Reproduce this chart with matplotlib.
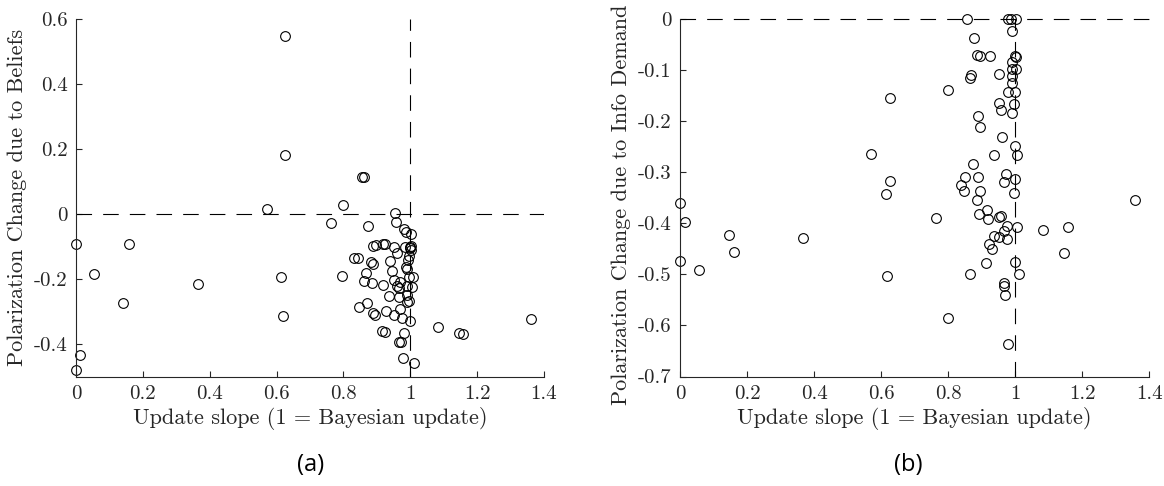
import matplotlib
matplotlib.use('Agg')
import matplotlib.pyplot as plt
import numpy as np

plt.rcParams['font.family'] = 'cmr10'
plt.rcParams['axes.unicode_minus'] = False
plt.rcParams['axes.formatter.use_mathtext'] = True

# (a) update slope vs polarization change due to beliefs
slope_a = [0.626, 0.626, 0.857, 0.863, 0.800, 0.571, 0.764, 0.875, 0.955, 0.958,
           0.0, 0.16, 0.055, 0.142, 0.366, 0.614, 0.619, 0.013, 0.0, 0.797,
           0.833, 0.845, 0.890, 0.898, 0.918, 0.925, 0.883, 0.890, 0.868, 0.862,
           0.887, 0.918, 0.938, 0.950, 0.960, 0.950, 0.960, 0.935, 0.870, 0.847,
           0.890, 0.895, 0.927, 0.950, 0.915, 0.923, 0.965, 0.980, 0.987, 1.002,
           1.000, 0.998, 1.001, 1.003, 0.985, 0.988, 0.990, 0.995, 1.008, 0.970,
           0.966, 0.990, 1.005, 0.990, 0.965, 0.995, 0.990, 0.968, 0.975, 1.000,
           0.980, 0.972, 0.978, 1.010, 1.083, 1.145, 1.158, 1.361, 0.996, 0.994,
           0.945]
beliefs = [0.549, 0.181, 0.115, 0.114, 0.027, 0.014, -0.027, -0.037, 0.002, -0.024,
           -0.092, -0.092, -0.184, -0.273, -0.216, -0.193, -0.314, -0.434, -0.480, -0.192,
           -0.136, -0.134, -0.098, -0.096, -0.092, -0.092, -0.149, -0.155, -0.180, -0.206,
           -0.213, -0.219, -0.145, -0.100, -0.121, -0.203, -0.220, -0.251, -0.275, -0.285,
           -0.304, -0.311, -0.298, -0.311, -0.360, -0.364, -0.393, -0.047, -0.055, -0.063,
           -0.100, -0.106, -0.110, -0.097, -0.103, -0.162, -0.170, -0.193, -0.193, -0.210,
           -0.227, -0.220, -0.226, -0.249, -0.254, -0.268, -0.270, -0.293, -0.321, -0.329,
           -0.367, -0.393, -0.443, -0.457, -0.349, -0.367, -0.369, -0.322, -0.130, -0.140,
           -0.175]

# (b) update slope vs polarization change due to info demand
slope_b = [0.858, 0.978, 0.988, 1.003, 0.991, 0.877, 0.886, 0.894, 0.925, 1.000,
           1.003, 0.991, 0.991, 1.002, 0.952, 0.868, 0.864, 0.991, 0.991, 0.800,
           0.978, 1.000, 0.627, 0.952, 0.996, 0.958, 0.991, 0.888, 0.896, 0.962,
           1.000, 1.005, 0.936, 0.873, 0.852, 0.890, 0.974, 0.999, 0.967, 0.627,
           0.838, 0.847, 0.614, 0.997, 0.895, 0.887, 1.358, 0.917, 0.891, 0.765,
           0.918, 0.951, 0.958, 1.005, 0.977, 1.082, 1.158, 0.967, 0.936, 0.952,
           0.976, 0.922, 0.931, 1.145, 0.999, 0.914, 0.864, 1.012, 0.967, 0.967,
           0.971, 0.799, 0.979, 0.619, 0.0, 0.016, 0.145, 0.368, 0.571, 0.0,
           0.057, 0.162]
info_demand = [0.0, 0.0, 0.0, 0.0, -0.0235, -0.0365, -0.071, -0.072, -0.072, -0.072,
               -0.074, -0.085, -0.098, -0.098, -0.108, -0.109, -0.116, -0.112, -0.125, -0.139,
               -0.142, -0.142, -0.154, -0.164, -0.166, -0.178, -0.185, -0.190, -0.211, -0.232,
               -0.249, -0.266, -0.266, -0.283, -0.309, -0.309, -0.303, -0.314, -0.319, -0.318,
               -0.326, -0.337, -0.343, -0.341, -0.336, -0.354, -0.355, -0.374, -0.382, -0.390,
               -0.392, -0.387, -0.385, -0.408, -0.406, -0.414, -0.408, -0.415, -0.424, -0.426,
               -0.431, -0.441, -0.451, -0.458, -0.476, -0.478, -0.499, -0.499, -0.517, -0.522,
               -0.541, -0.585, -0.636, -0.504, -0.361, -0.398, -0.423, -0.429, -0.264, -0.474,
               -0.491, -0.457]

xticks = [0, 0.2, 0.4, 0.6, 0.8, 1, 1.2, 1.4]
xticklabels = ['0', '0.2', '0.4', '0.6', '0.8', '1', '1.2', '1.4']
yticks_a = [-0.4, -0.2, 0, 0.2, 0.4, 0.6]
yticklabels_a = ['-0.4', '-0.2', '0', '0.2', '0.4', '0.6']
yticks_b = [0, -0.1, -0.2, -0.3, -0.4, -0.5, -0.6, -0.7]
yticklabels_b = ['0', '-0.1', '-0.2', '-0.3', '-0.4', '-0.5', '-0.6', '-0.7']

fig = plt.figure(figsize=(11.64, 4.86), dpi=100)
ax1 = fig.add_axes([0.0653, 0.2253, 0.402, 0.7356])
ax2 = fig.add_axes([0.5842, 0.2253, 0.403, 0.7356])


def style(ax, ylim, yticks, yticklabels, ylabel, label_y=0.5):
    ax.set_xlim(0, 1.4)
    ax.set_ylim(*ylim)
    ax.set_xticks(xticks)
    ax.set_xticklabels(xticklabels)
    ax.set_yticks(yticks)
    ax.set_yticklabels(yticklabels)
    for s in ['top', 'right']:
        ax.spines[s].set_visible(False)
    for s in ['left', 'bottom']:
        ax.spines[s].set_linewidth(0.8)
        ax.spines[s].set_color('#262626')
    ax.tick_params(direction='in', length=4, width=0.8, labelsize=15,
                   colors='#262626', pad=6)
    ax.set_xlabel('Update slope (1 = Bayesian update)', fontsize=16, color='#262626',
                  labelpad=3)
    ax.set_ylabel(ylabel, fontsize=16, color='#262626', labelpad=5, y=label_y)


# panel (a)
ax1.plot([0, 1.4], [0, 0], color='black', lw=0.8, dashes=(14, 10))
ax1.plot([1, 1], [-0.5, 0.6], color='black', lw=0.8, dashes=(14, 10))
ax1.plot(slope_a, beliefs, 'o', mfc='none', mec='black', ms=7, mew=0.8, clip_on=False)
style(ax1, (-0.5, 0.6), yticks_a, yticklabels_a, 'Polarization Change due to Beliefs')

# panel (b)
ax2.plot([0, 1.4], [0, 0], color='black', lw=0.8, dashes=(14, 10), clip_on=False)
ax2.plot([1, 1], [-0.7, 0], color='black', lw=0.8, dashes=(14, 10))
ax2.plot(slope_b, info_demand, 'o', mfc='none', mec='black', ms=7, mew=0.8, clip_on=False)
style(ax2, (-0.7, 0), yticks_b, yticklabels_b, 'Polarization Change due to Info Demand',
      label_y=0.48)

fig.text(0.2665, 0.043, '(a)', family='Open Sans', fontsize=17, ha='center', va='center')
fig.text(0.780, 0.043, '(b)', family='Open Sans', fontsize=17, ha='center', va='center')

fig.savefig('out.png', dpi=100)
